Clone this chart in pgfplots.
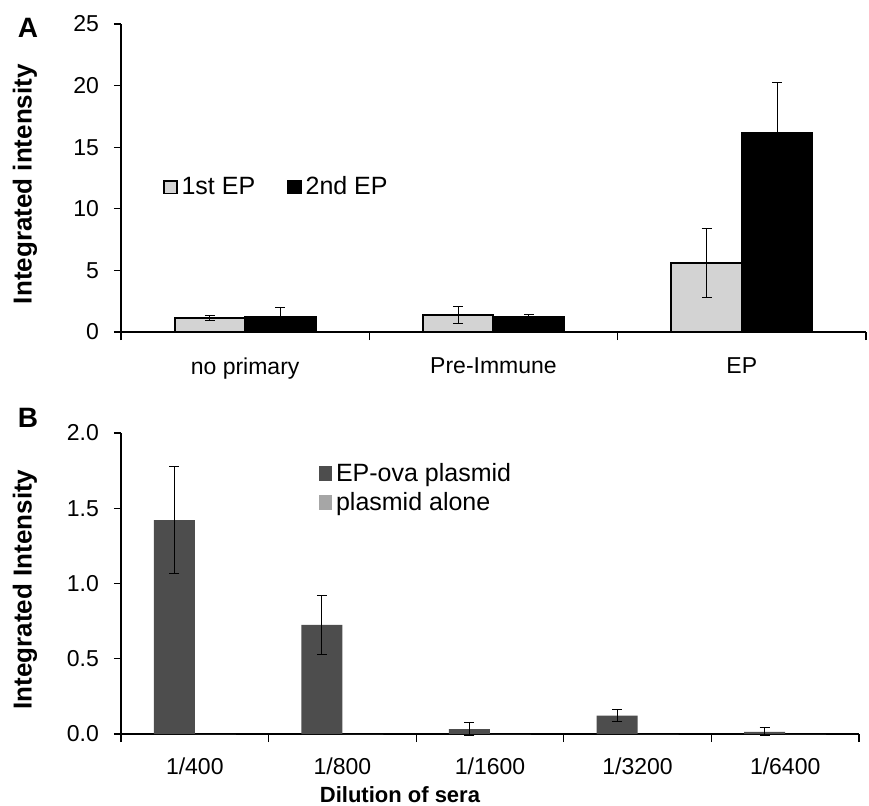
\documentclass[border=0pt]{standalone}
\usepackage{fontspec}
\setmainfont{Liberation Sans}
\usepackage{pgfplots}
\pgfplotsset{compat=1.18}

\definecolor{epone}{RGB}{211,211,211}
\definecolor{ovabar}{RGB}{77,77,77}
\definecolor{plasmid}{RGB}{166,166,166}

\pgfplotsset{
  panel/.style={
    scale only axis,
    clip=false,
    axis x line*=bottom,
    axis y line*=left,
    axis line style={line width=0.6pt,-},
    ybar=0pt,
    ymin=0,
    tick align=outside,
    major tick length=3.5pt,
    minor tick length=4pt,
    major x tick style={draw=none},
    minor x tick style={line width=0.6pt,black},
    y tick style={line width=0.6pt,black},
    /pgf/number format/assume math mode=true,
    tick label style={font=\fontsize{11.5}{13}\selectfont},
    yticklabel style={xshift=-4pt},
    legend cell align=left,
    legend style={draw=none,fill=none,font=\fontsize{12.5}{15}\selectfont},
    ylabel style={font=\bfseries\fontsize{13}{14}\selectfont},
    xlabel style={font=\bfseries\fontsize{11}{13}\selectfont},
  },
  errs/.style={
    error bars/.cd, y dir=both, y explicit,
    error bar style={line width=0.5pt,black,solid},
    error mark options={rotate=90,mark size=2.5pt,line width=0.5pt,black,solid},
  },
}

\begin{document}
\begin{tikzpicture}
\useasboundingbox (-60.5pt,166pt) rectangle (374pt,-236.5pt);

% panel A
\begin{axis}[
  panel,
  at={(0pt,0pt)}, anchor=south west,
  width=372.5pt, height=154pt,
  xmin=-0.5, xmax=2.5,
  ymax=25,
  bar width=0.284,
  xtick={0,1,2},
  xticklabels={no primary,Pre-Immune,EP},
  minor xtick={-0.5,0.5,1.5,2.5},
  xticklabel style={yshift=-6pt},
  ytick={0,5,10,15,20,25},
  ylabel={Integrated intensity},
  ylabel style={at={(axis description cs:-0.129,0.48)},anchor=center},
  legend columns=2,
  legend image code/.code={\draw[#1,line width=0.8pt] (0pt,-3.2pt) rectangle (6.4pt,3.2pt);},
  legend style={at={(0.048,0.47)},anchor=west,
    /tikz/every even column/.append style={column sep=14pt}},
]
\addplot[fill=epone,draw=black,line width=1pt,errs] coordinates {
  (0,1.10) +- (0,0.20)
  (1,1.38) +- (0,0.70)
  (2,5.57) +- (0,2.80)
};
\addlegendentry{1st EP}
\addplot[fill=black,draw=black,line width=1pt,errs] coordinates {
  (0,1.19) +- (0,0.80)
  (1,1.19) +- (0,0.25)
  (2,16.15) +- (0,4.10)
};
\addlegendentry{2nd EP}
\node[font=\bfseries\fontsize{14}{14}\selectfont] at (rel axis cs:-0.125,0.987) {A};
\end{axis}

% panel B
\begin{axis}[
  panel,
  at={(0pt,-201pt)}, anchor=south west,
  width=369pt, height=150.5pt,
  xmin=-0.5, xmax=4.5,
  ymax=2,
  bar width=0.278,
  xtick={0,1,2,3,4},
  xticklabels={1/400,1/800,1/1600,1/3200,1/6400},
  minor xtick={-0.5,0.5,1.5,2.5,3.5,4.5},
  xticklabel style={yshift=-5pt},
  ytick={0,0.5,1,1.5,2},
  yticklabel style={/pgf/number format/.cd,fixed,fixed zerofill,precision=1},
  ylabel={Integrated Intensity},
  ylabel style={at={(axis description cs:-0.130,0.48)},anchor=center},
  xlabel={Dilution of sera},
  xlabel style={at={(axis description cs:0.378,0)},anchor=center,yshift=-30.5pt},
  legend image code/.code={\fill[#1] (0pt,-3.6pt) rectangle (6.4pt,3.6pt);},
  legend style={at={(0.26,0.817)},anchor=west},
]
\addplot[fill=ovabar,draw=none,errs] coordinates {
  (0,1.421) +- (0,0.357)
  (1,0.725) +- (0,0.195)
  (2,0.033) +- (0,0.045)
  (3,0.122) +- (0,0.040)
  (4,0.015) +- (0,0.025)
};
\addlegendentry{EP-ova plasmid}
\addplot[fill=plasmid,draw=none] coordinates {
  (0,0) (1,0) (2,0) (3,0) (4,0)
};
\addlegendentry{plasmid alone}
\node[font=\bfseries\fontsize{14}{14}\selectfont] at (rel axis cs:-0.126,1.05) {B};
\end{axis}
\end{tikzpicture}
\end{document}
